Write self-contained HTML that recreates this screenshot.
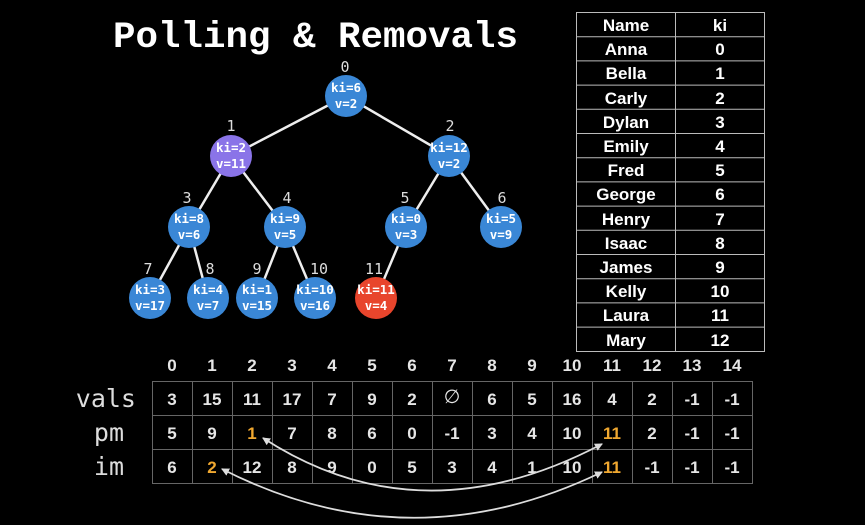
<!DOCTYPE html>
<html><head><style>body{margin:0;background:#000;width:865px;height:520px;overflow:hidden}</style></head>
<body>
<svg width="865" height="520" xmlns="http://www.w3.org/2000/svg">
<rect width="865" height="520" fill="#000"/>
<text x="113" y="47" font-family="Liberation Mono, monospace" font-weight="bold" font-size="37.5" fill="#fff">Polling &amp; Removals</text>
<g stroke="#eee" stroke-width="2.5">
<line x1="346" y1="96" x2="231" y2="156"/><line x1="346" y1="96" x2="449" y2="156"/>
<line x1="231" y1="156" x2="189" y2="227"/><line x1="231" y1="156" x2="285" y2="227"/>
<line x1="449" y1="156" x2="406" y2="227"/><line x1="449" y1="156" x2="501" y2="227"/>
<line x1="189" y1="227" x2="150" y2="298"/><line x1="189" y1="227" x2="208" y2="298"/>
<line x1="285" y1="227" x2="257" y2="298"/><line x1="285" y1="227" x2="315" y2="298"/>
<line x1="406" y1="227" x2="376" y2="298"/>
</g>
<g font-family="DejaVu Sans Mono, monospace" font-weight="bold" font-size="12.5" fill="#fff" text-anchor="middle">
<circle cx="346" cy="96" r="21" fill="#3a87d6"/><text x="346" y="92">ki=6</text><text x="346" y="108">v=2</text>
<circle cx="231" cy="156" r="21" fill="#8a74e8"/><text x="231" y="152">ki=2</text><text x="231" y="168">v=11</text>
<circle cx="449" cy="156" r="21" fill="#3a87d6"/><text x="449" y="152">ki=12</text><text x="449" y="168">v=2</text>
<circle cx="189" cy="227" r="21" fill="#3a87d6"/><text x="189" y="223">ki=8</text><text x="189" y="239">v=6</text>
<circle cx="285" cy="227" r="21" fill="#3a87d6"/><text x="285" y="223">ki=9</text><text x="285" y="239">v=5</text>
<circle cx="406" cy="227" r="21" fill="#3a87d6"/><text x="406" y="223">ki=0</text><text x="406" y="239">v=3</text>
<circle cx="501" cy="227" r="21" fill="#3a87d6"/><text x="501" y="223">ki=5</text><text x="501" y="239">v=9</text>
<circle cx="150" cy="298" r="21" fill="#3a87d6"/><text x="150" y="294">ki=3</text><text x="150" y="310">v=17</text>
<circle cx="208" cy="298" r="21" fill="#3a87d6"/><text x="208" y="294">ki=4</text><text x="208" y="310">v=7</text>
<circle cx="257" cy="298" r="21" fill="#3a87d6"/><text x="257" y="294">ki=1</text><text x="257" y="310">v=15</text>
<circle cx="315" cy="298" r="21" fill="#3a87d6"/><text x="315" y="294">ki=10</text><text x="315" y="310">v=16</text>
<circle cx="376" cy="298" r="21" fill="#e8452c"/><text x="376" y="294">ki=11</text><text x="376" y="310">v=4</text>
</g>
<g font-family="DejaVu Sans Mono, monospace" font-size="15" fill="#ddd" text-anchor="middle">
<text x="345" y="72">0</text><text x="231" y="131">1</text><text x="450" y="131">2</text>
<text x="187" y="203">3</text><text x="287" y="203">4</text><text x="405" y="203">5</text><text x="502" y="203">6</text>
<text x="148" y="274">7</text><text x="210" y="274">8</text><text x="257" y="274">9</text><text x="319" y="274">10</text><text x="374" y="274">11</text>
</g>
<g stroke="#bbb" stroke-width="1" fill="none">
<rect x="576.5" y="12.5" width="188" height="339"/>
<line x1="675.5" y1="12" x2="675.5" y2="352"/>
</g>
<g stroke="#bbb" stroke-width="1">
<line x1="576" x2="765" y1="36.7" y2="36.7"/><line x1="576" x2="765" y1="60.9" y2="60.9"/><line x1="576" x2="765" y1="85.1" y2="85.1"/><line x1="576" x2="765" y1="109.3" y2="109.3"/><line x1="576" x2="765" y1="133.5" y2="133.5"/><line x1="576" x2="765" y1="157.7" y2="157.7"/><line x1="576" x2="765" y1="181.9" y2="181.9"/><line x1="576" x2="765" y1="206.1" y2="206.1"/><line x1="576" x2="765" y1="230.3" y2="230.3"/><line x1="576" x2="765" y1="254.5" y2="254.5"/><line x1="576" x2="765" y1="278.7" y2="278.7"/><line x1="576" x2="765" y1="302.9" y2="302.9"/><line x1="576" x2="765" y1="327.1" y2="327.1"/>
</g>
<g font-family="Liberation Sans, sans-serif" font-weight="bold" font-size="17" fill="#fff" text-anchor="middle">
<text x="626" y="31">Name</text><text x="720" y="31">ki</text>
<text x="626" y="55">Anna</text><text x="720" y="55">0</text>
<text x="626" y="79">Bella</text><text x="720" y="79">1</text>
<text x="626" y="104">Carly</text><text x="720" y="104">2</text>
<text x="626" y="128">Dylan</text><text x="720" y="128">3</text>
<text x="626" y="152">Emily</text><text x="720" y="152">4</text>
<text x="626" y="176">Fred</text><text x="720" y="176">5</text>
<text x="626" y="200">George</text><text x="720" y="200">6</text>
<text x="626" y="225">Henry</text><text x="720" y="225">7</text>
<text x="626" y="249">Isaac</text><text x="720" y="249">8</text>
<text x="626" y="273">James</text><text x="720" y="273">9</text>
<text x="626" y="297">Kelly</text><text x="720" y="297">10</text>
<text x="626" y="321">Laura</text><text x="720" y="321">11</text>
<text x="626" y="346">Mary</text><text x="720" y="346">12</text>
</g>
<g stroke="#666" stroke-width="1" fill="none">
<rect x="152.5" y="381.5" width="600" height="102"/>
<line x1="152" x2="753" y1="415.5" y2="415.5"/><line x1="152" x2="753" y1="449.5" y2="449.5"/>
<line x1="192.5" x2="192.5" y1="381" y2="484"/><line x1="232.5" x2="232.5" y1="381" y2="484"/><line x1="272.5" x2="272.5" y1="381" y2="484"/><line x1="312.5" x2="312.5" y1="381" y2="484"/><line x1="352.5" x2="352.5" y1="381" y2="484"/><line x1="392.5" x2="392.5" y1="381" y2="484"/><line x1="432.5" x2="432.5" y1="381" y2="484"/><line x1="472.5" x2="472.5" y1="381" y2="484"/><line x1="512.5" x2="512.5" y1="381" y2="484"/><line x1="552.5" x2="552.5" y1="381" y2="484"/><line x1="592.5" x2="592.5" y1="381" y2="484"/><line x1="632.5" x2="632.5" y1="381" y2="484"/><line x1="672.5" x2="672.5" y1="381" y2="484"/><line x1="712.5" x2="712.5" y1="381" y2="484"/>
</g>
<g font-family="DejaVu Sans Mono, monospace" font-size="25" fill="#ddd" text-anchor="end">
<text x="136" y="407">vals</text><text x="124" y="441">pm</text><text x="124" y="475">im</text>
</g>
<g font-family="Liberation Sans, sans-serif" font-weight="bold" font-size="17" fill="#e6e6e6" text-anchor="middle">
<text x="172" y="371">0</text><text x="212" y="371">1</text><text x="252" y="371">2</text><text x="292" y="371">3</text><text x="332" y="371">4</text><text x="372" y="371">5</text><text x="412" y="371">6</text><text x="452" y="371">7</text><text x="492" y="371">8</text><text x="532" y="371">9</text><text x="572" y="371">10</text><text x="612" y="371">11</text><text x="652" y="371">12</text><text x="692" y="371">13</text><text x="732" y="371">14</text>
<text x="172" y="405">3</text><text x="212" y="405">15</text><text x="252" y="405">11</text><text x="292" y="405">17</text><text x="332" y="405">7</text><text x="372" y="405">9</text><text x="412" y="405">2</text><text x="452" y="403" font-weight="normal" font-size="19">∅</text><text x="492" y="405">6</text><text x="532" y="405">5</text><text x="572" y="405">16</text><text x="612" y="405">4</text><text x="652" y="405">2</text><text x="692" y="405">-1</text><text x="732" y="405">-1</text>
<text x="172" y="439">5</text><text x="212" y="439">9</text><text x="252" y="439" fill="#f0a830">1</text><text x="292" y="439">7</text><text x="332" y="439">8</text><text x="372" y="439">6</text><text x="412" y="439">0</text><text x="452" y="439">-1</text><text x="492" y="439">3</text><text x="532" y="439">4</text><text x="572" y="439">10</text><text x="612" y="439" fill="#f0a830">11</text><text x="652" y="439">2</text><text x="692" y="439">-1</text><text x="732" y="439">-1</text>
<text x="172" y="473">6</text><text x="212" y="473" fill="#f0a830">2</text><text x="252" y="473">12</text><text x="292" y="473">8</text><text x="332" y="473">9</text><text x="372" y="473">0</text><text x="412" y="473">5</text><text x="452" y="473">3</text><text x="492" y="473">4</text><text x="532" y="473">1</text><text x="572" y="473">10</text><text x="612" y="473" fill="#f0a830">11</text><text x="652" y="473">-1</text><text x="692" y="473">-1</text><text x="732" y="473">-1</text>
</g>
<defs><marker id="a" markerWidth="8" markerHeight="8" refX="7" refY="4" orient="auto-start-reverse" markerUnits="userSpaceOnUse"><path d="M0,0 L8,4 L0,8 z" fill="#ddd"/></marker></defs>
<g stroke="#ddd" stroke-width="1.8" fill="none">
<path d="M263,438 Q420,540 602,444" marker-start="url(#a)" marker-end="url(#a)"/>
<path d="M222,469 Q410,565 602,472" marker-start="url(#a)" marker-end="url(#a)"/>
</g>
</svg>
</body></html>
